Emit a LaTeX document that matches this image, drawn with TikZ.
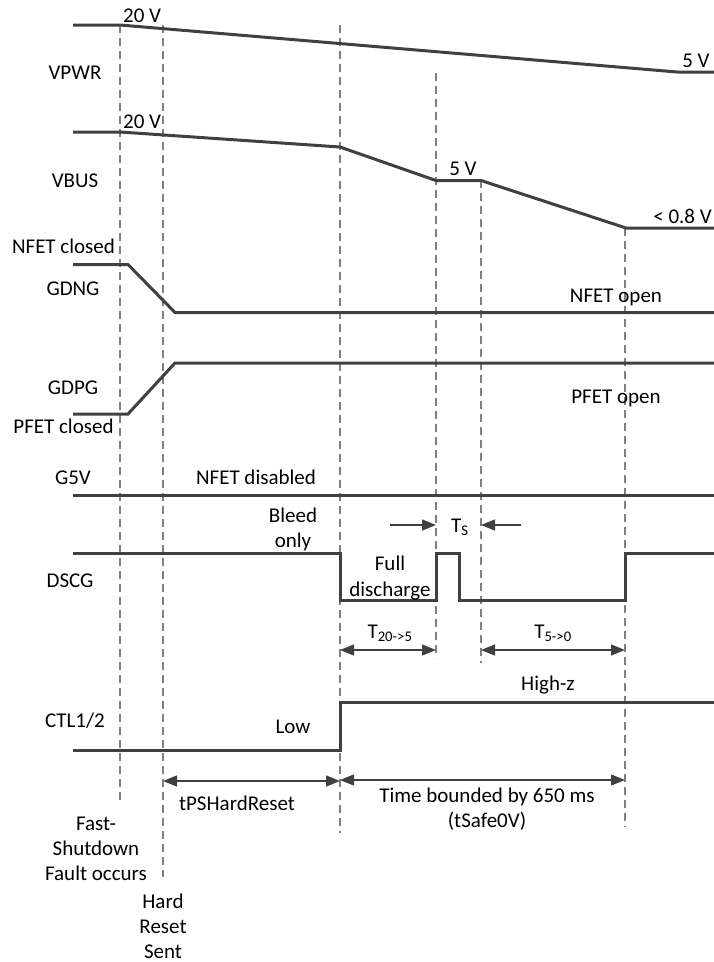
\documentclass[tikz,border=0pt]{standalone}
\usepackage{fontspec}
\setmainfont{Carlito}
\usetikzlibrary{arrows.meta}
\definecolor{sig}{HTML}{404040}
\definecolor{dash}{HTML}{808080}
\tikzset{
  signal/.style={draw=sig,line width=3pt,line join=miter},
  guide/.style={draw=dash,line width=1.8pt,dash pattern=on 8pt off 5pt},
  dim/.style={draw=sig,line width=1.3pt,arrows={-Triangle[length=14pt,width=11pt]}},
  ddim/.style={draw=sig,line width=1.3pt,arrows={Triangle[length=14pt,width=11pt]-Triangle[length=14pt,width=11pt]}},
  lbl/.style={inner sep=0pt,anchor=base,font=\fontsize{21}{25}\selectfont,text=black},
  lblw/.style={lbl,anchor=base west},
  lble/.style={lbl,anchor=base east},
}
\begin{document}
\begin{tikzpicture}[x=1pt,y=-1pt]
\useasboundingbox (0,0) rectangle (714,962);
% guide lines
\draw[guide] (120,25) -- (120,802);
\draw[guide] (163,25) -- (163,877);
\draw[guide] (340,25) -- (340,833);
\draw[guide] (436,73) -- (436,658);
\draw[guide] (481,180) -- (481,663);
\draw[guide] (625,228) -- (625,827);
% VPWR
\draw[signal] (73,25) -- (120,25) -- (677,72) -- (714,72);
\node[lblw] (vp20) at (123,22) {20 V};
\node[lbl] (vp5) at (696,67) {5 V};
\node[lbl] (vpwr) at (75,79) {VPWR};
% VBUS
\draw[signal] (73,132) -- (120,132) -- (340,147) -- (436,180.5) -- (481,180.5) -- (626,228) -- (714,228);
\node[lblw] (vb20) at (123,128) {20 V};
\node[lbl] (vb5) at (463,175) {5 V};
\node[lble] (vb08) at (712,223) {< 0.8 V};
\node[lbl] (vbus) at (75,187) {VBUS};
% GDNG
\draw[signal] (73,264.5) -- (128,264.5) -- (175,312.5) -- (714,312.5);
\node[lbl] (nfc) at (63.5,253) {NFET closed};
\node[lbl] (gdng) at (73,295) {GDNG};
\node[lbl] (nfo) at (616,302) {NFET open};
% GDPG
\draw[signal] (73,414) -- (128,414) -- (175,363) -- (714,363);
\node[lbl] (gdpg) at (73,394) {GDPG};
\node[lbl] (pfc) at (63.5,433) {PFET closed};
\node[lbl] (pfo) at (616,403) {PFET open};
% G5V
\draw[signal] (73,495) -- (714,495);
\node[lbl] (g5v) at (73,484) {G5V};
\node[lbl] (nfd) at (256,484) {NFET disabled};
% DSCG
\draw[signal] (73,553) -- (340,553) -- (340,600.5) -- (436,600.5) -- (436,553) -- (459,553) -- (459,600.5) -- (625,600.5) -- (625,553) -- (714,553);
\node[lbl] (bleed1) at (293,522) {Bleed};
\node[lbl] (bleed2) at (293,547) {only};
\node[lbl] (dscg) at (70,587) {DSCG};
\node[lbl] (full1) at (390,570) {Full};
\node[lbl] (full2) at (390,596) {discharge};
% Ts
\coordinate (tsA) at (390,525);
\coordinate (tsB) at (436,525);
\coordinate (tsC) at (521,525);
\coordinate (tsD) at (481,525);
\draw[dim] (tsA) -- (tsB);
\draw[dim] (tsC) -- (tsD);
\node[lblw] (ts) at (451,532) {T\textsubscript{S}};
% T20->5, T5->0
\coordinate (t1a) at (340,650);
\coordinate (t1b) at (436,650);
\coordinate (t2a) at (481,650);
\coordinate (t2b) at (625,650);
\draw[ddim] (t1a) -- (t1b);
\draw[ddim] (t2a) -- (t2b);
\node[lbl] (t205) at (390,638) {T\textsubscript{20->5}};
\node[lbl] (t50) at (553,638) {T\textsubscript{5->0}};
\node[lbl] (hiz) at (548,690) {High-z};
% CTL1/2
\draw[signal] (73,750.5) -- (340,750.5) -- (340,702.5) -- (714,702.5);
\node[lbl] (ctl) at (75,727) {CTL1/2};
\node[lbl] (low) at (293,733) {Low};
% bottom dimensions
\coordinate (h1) at (163,781);
\coordinate (h2) at (340,781);
\coordinate (s1) at (340,780);
\coordinate (s2) at (625,780);
\draw[ddim] (h1) -- (h2);
\draw[ddim] (s1) -- (s2);
\node[lbl] (tps) at (237,810) {tPSHardReset};
\node[lbl] (tb1) at (487,802) {Time bounded by 650 ms};
\node[lbl] (tb2) at (487,827) {(tSafe0V)};
\node[lbl] (f1) at (96,830) {Fast-};
\node[lbl] (f2) at (96,855) {Shutdown};
\node[lbl] (f3) at (96,880) {Fault occurs};
\node[lbl] (hr1) at (163,908) {Hard};
\node[lbl] (hr2) at (163,933) {Reset};
\node[lbl] (hr3) at (163,958) {Sent};
\end{tikzpicture}
\end{document}
